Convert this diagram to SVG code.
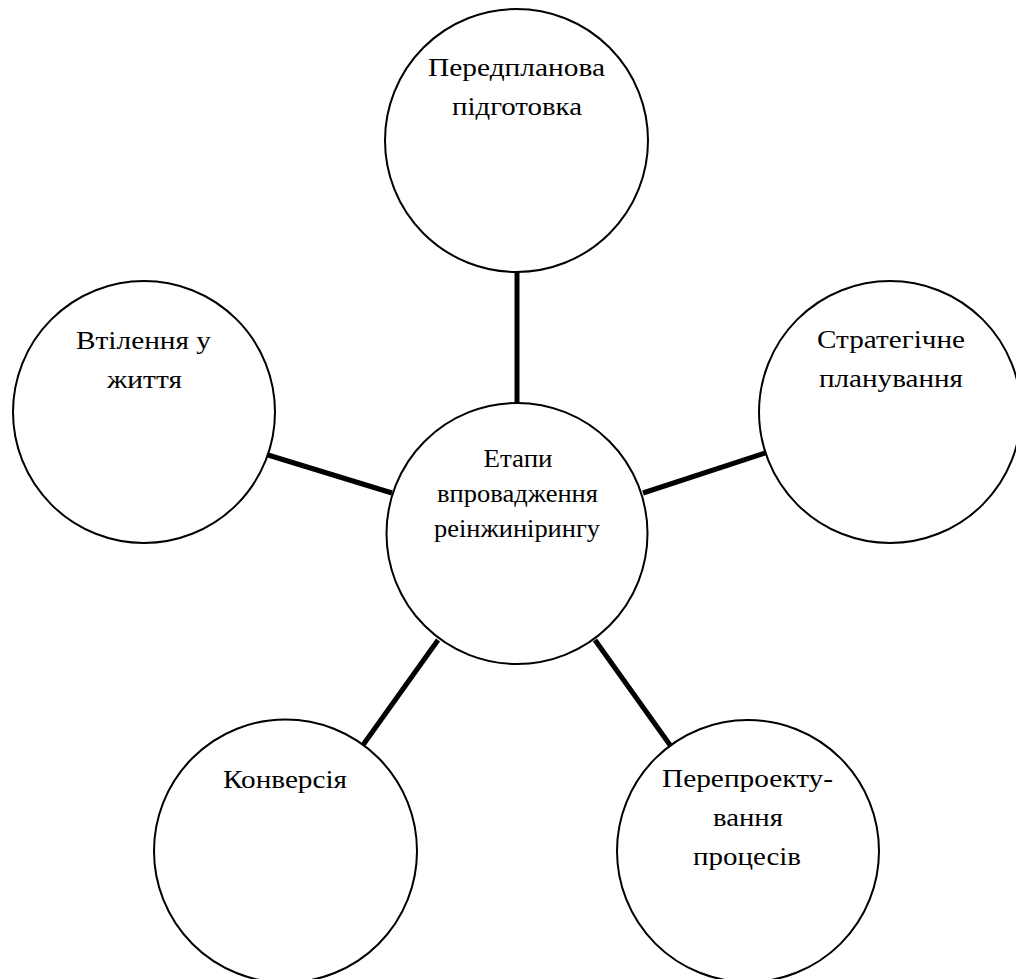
<svg xmlns="http://www.w3.org/2000/svg" width="1016" height="979" viewBox="0 0 1016 979">
<style>
.node{fill:#fff;stroke:#000;stroke-width:2}
.lbl{font-family:"Liberation Serif","Times New Roman",serif;font-size:25px;fill:#000;text-anchor:middle}
.ctr{font-size:26px}
.conn{stroke:#000;stroke-width:5;fill:none}
</style>
<rect width="1016" height="979" fill="#fff"/>
<g id="connectors">
<line class="conn" x1="517" y1="272" x2="517" y2="403"/>
<line class="conn" x1="643" y1="493" x2="765" y2="453"/>
<line class="conn" x1="268" y1="455" x2="392" y2="493"/>
<line class="conn" x1="438" y1="640" x2="363" y2="745"/>
<line class="conn" x1="595" y1="640" x2="670" y2="745"/>
</g>
<g id="center">
<circle class="node" cx="517" cy="533.5" r="130.5"/>
<text class="lbl ctr" x="518" y="467" textLength="69" lengthAdjust="spacingAndGlyphs">Етапи</text>
<text class="lbl ctr" x="517.5" y="502" textLength="161" lengthAdjust="spacingAndGlyphs">впровадження</text>
<text class="lbl ctr" x="517" y="537" textLength="166" lengthAdjust="spacingAndGlyphs">реінжинірингу</text>
</g>
<g id="top">
<circle class="node" cx="516.5" cy="140.5" r="131.5"/>
<text class="lbl" x="516.5" y="76" textLength="177" lengthAdjust="spacingAndGlyphs">Передпланова</text>
<text class="lbl" x="517" y="115" textLength="130" lengthAdjust="spacingAndGlyphs">підготовка</text>
</g>
<g id="right">
<circle class="node" cx="890" cy="412" r="131"/>
<text class="lbl" x="891" y="348" textLength="148" lengthAdjust="spacingAndGlyphs">Стратегічне</text>
<text class="lbl" x="891" y="387" textLength="144" lengthAdjust="spacingAndGlyphs">планування</text>
</g>
<g id="left">
<circle class="node" cx="144" cy="412" r="131"/>
<text class="lbl" x="143.5" y="349" textLength="135" lengthAdjust="spacingAndGlyphs">Втілення у</text>
<text class="lbl" x="144.5" y="388" textLength="75" lengthAdjust="spacingAndGlyphs">життя</text>
</g>
<g id="bottom-left">
<circle class="node" cx="285.5" cy="851" r="131.5"/>
<text class="lbl" x="285" y="788" textLength="124" lengthAdjust="spacingAndGlyphs">Конверсія</text>
</g>
<g id="bottom-right">
<circle class="node" cx="748" cy="851" r="131"/>
<text class="lbl" x="747.5" y="787" textLength="171" lengthAdjust="spacingAndGlyphs">Перепроекту-</text>
<text class="lbl" x="748" y="826" textLength="70" lengthAdjust="spacingAndGlyphs">вання</text>
<text class="lbl" x="747" y="865" textLength="108" lengthAdjust="spacingAndGlyphs">процесів</text>
</g>
</svg>
